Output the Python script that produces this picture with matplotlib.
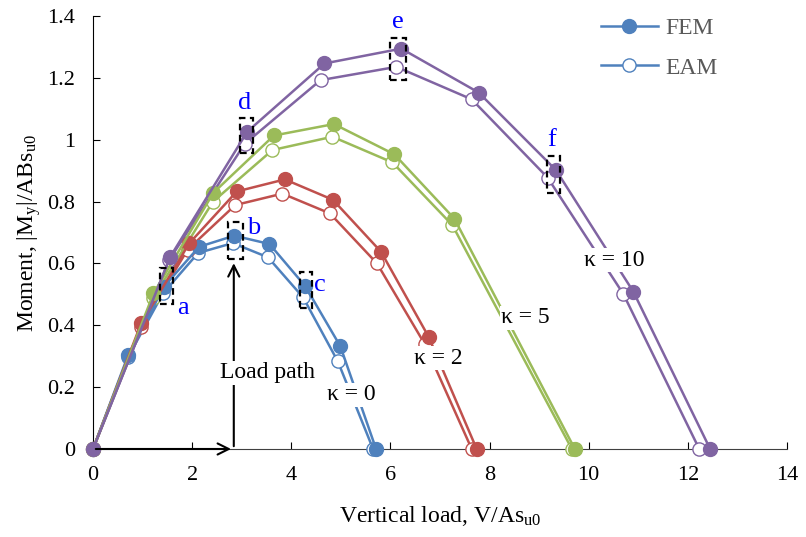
import matplotlib
matplotlib.use('Agg')
import matplotlib.pyplot as plt
from matplotlib.patches import Rectangle
from matplotlib.lines import Line2D

plt.rcParams['font.family'] = ['Liberation Serif', 'DejaVu Serif']
plt.rcParams['mathtext.fontset'] = 'custom'
plt.rcParams['mathtext.rm'] = 'Liberation Serif'
plt.rcParams['mathtext.it'] = 'Liberation Serif'

# kappa = 0
v_fem_0 = [0, 0.71, 1.43, 2.14, 2.85, 3.56, 4.28, 4.99, 5.71]
m_fem_0 = [0, 0.304, 0.525, 0.654, 0.690, 0.663, 0.527, 0.332, 0]
v_eam_0 = [0, 0.71, 1.41, 2.12, 2.82, 3.53, 4.24, 4.94, 5.65]
m_eam_0 = [0, 0.298, 0.503, 0.634, 0.666, 0.620, 0.490, 0.283, 0]
# kappa = 2
v_fem_2 = [0, 0.97, 1.94, 2.90, 3.87, 4.84, 5.81, 6.77, 7.74]
m_fem_2 = [0, 0.406, 0.665, 0.833, 0.872, 0.806, 0.638, 0.363, 0]
v_eam_2 = [0, 0.96, 1.91, 2.87, 3.82, 4.78, 5.73, 6.69, 7.64]
m_eam_2 = [0, 0.395, 0.645, 0.789, 0.826, 0.762, 0.600, 0.340, 0]
# kappa = 5
v_fem_5 = [0, 1.22, 2.43, 3.65, 4.86, 6.08, 7.29, 9.72]
m_fem_5 = [0, 0.503, 0.829, 1.014, 1.051, 0.953, 0.745, 0]
v_eam_5 = [0, 1.21, 2.42, 3.62, 4.83, 6.04, 7.25, 9.66]
m_eam_5 = [0, 0.488, 0.800, 0.967, 1.010, 0.927, 0.724, 0]
# kappa = 10
v_fem_10 = [0, 1.56, 3.11, 4.67, 6.22, 7.78, 9.34, 10.90, 12.45]
m_fem_10 = [0, 0.622, 1.026, 1.247, 1.295, 1.153, 0.902, 0.509, 0]
v_eam_10 = [0, 1.53, 3.06, 4.59, 6.12, 7.64, 9.17, 10.70, 12.23]
m_eam_10 = [0, 0.610, 0.987, 1.193, 1.236, 1.131, 0.878, 0.501, 0]

series = [
    (v_fem_0, m_fem_0, v_eam_0, m_eam_0, '#4F81BD'),
    (v_fem_2, m_fem_2, v_eam_2, m_eam_2, '#C0504D'),
    (v_fem_5, m_fem_5, v_eam_5, m_eam_5, '#9BBB59'),
    (v_fem_10, m_fem_10, v_eam_10, m_eam_10, '#8064A2'),
]

# stages a-f: label position and dashed box (x0, x1, y0, y1)
stage_names = ['a', 'b', 'c', 'd', 'e', 'f']
stage_text = [(1.82, 0.456), (3.25, 0.715), (4.58, 0.53), (3.05, 1.12), (6.15, 1.38), (9.26, 1.0)]
stage_box = [(1.36, 1.62, 0.468, 0.587), (2.73, 3.02, 0.614, 0.735), (4.18, 4.42, 0.455, 0.573),
             (2.97, 3.23, 0.956, 1.072), (6.0, 6.31, 1.195, 1.33), (9.15, 9.42, 0.829, 0.947)]

kappa_labels = ['κ = 0', 'κ = 2', 'κ = 5', 'κ = 10']
kappa_pos = [(5.22, 0.175), (6.96, 0.294), (8.72, 0.424), (10.51, 0.611)]

load_path_end = (2.84, 0.61)

fig = plt.figure(figsize=(8.06, 5.37), dpi=100)
ax = fig.add_axes([0.1154, 0.1639, 0.861, 0.806])

for vf, mf, ve, me, c in series:
    ax.plot(ve, me, '-o', color=c, lw=1.8, ms=9.5, mfc='white', mec=c, mew=1.0, zorder=3)
    ax.plot(vf, mf, '-o', color=c, lw=1.8, ms=10, mfc=c, mec=c, zorder=4)

# load path arrows
ax.annotate('', xy=(load_path_end[0], 0), xytext=(0, 0),
            arrowprops=dict(arrowstyle='->', color='black', lw=1.5, mutation_scale=20), zorder=5)
ax.annotate('', xy=load_path_end, xytext=(load_path_end[0], 0),
            arrowprops=dict(arrowstyle='->', color='black', lw=1.5, mutation_scale=20), zorder=5)
ax.text(3.53, 0.246, 'Load path', fontsize=17, ha='center', va='center', zorder=6,
        bbox=dict(facecolor='white', edgecolor='none', pad=1))

for (x, y), s in zip(kappa_pos, kappa_labels):
    ax.text(x, y, s, fontsize=17, ha='center', va='center', zorder=6,
            bbox=dict(facecolor='white', edgecolor='none', pad=1))

for s, (tx, ty), (x0, x1, y0, y1) in zip(stage_names, stage_text, stage_box):
    ax.add_patch(Rectangle((x0, y0), x1 - x0, y1 - y0, fill=False, ec='black',
                           ls=(0, (3, 2)), lw=1.6, zorder=7))
    ax.text(tx, ty, s, fontsize=19, color='blue', ha='center', va='center', zorder=7)

ax.set_xlim(0, 14)
ax.set_ylim(0, 1.4)
ax.set_xticks(range(0, 15, 2))
ax.set_yticks([0, 0.2, 0.4, 0.6, 0.8, 1.0, 1.2, 1.4])
ax.set_yticklabels(['0', '0.2', '0.4', '0.6', '0.8', '1', '1.2', '1.4'])
ax.tick_params(direction='in', length=5, labelsize=16)
ax.tick_params(axis='y', pad=13)
ax.tick_params(axis='x', pad=12)
ax.spines['top'].set_visible(False)
ax.spines['right'].set_visible(False)
ax.spines['bottom'].set_color('#404040')
for a in ax.get_children():
    a.set_clip_on(False)

ax.set_xlabel(r'Vertical load, V/As$_{\mathrm{u0}}$', fontsize=17, labelpad=14)
ax.set_ylabel(r'Moment, |M$_{\mathrm{y}}$|/ABs$_{\mathrm{u0}}$', fontsize=17, labelpad=3)

handles = [Line2D([], [], color='#4F81BD', lw=1.8, marker='o', ms=10),
           Line2D([], [], color='#4F81BD', lw=1.8, marker='o', ms=9.5, mfc='white', mew=1.0)]
leg = ax.legend(handles, ['FEM', 'EAM'], loc='upper right', bbox_to_anchor=(0.93, 1.045),
                frameon=False, fontsize=17, handlelength=2.4, labelspacing=0.75,
                handletextpad=0.3)
for t in leg.get_texts():
    t.set_color('#595959')

fig.savefig('out.png', dpi=100)
